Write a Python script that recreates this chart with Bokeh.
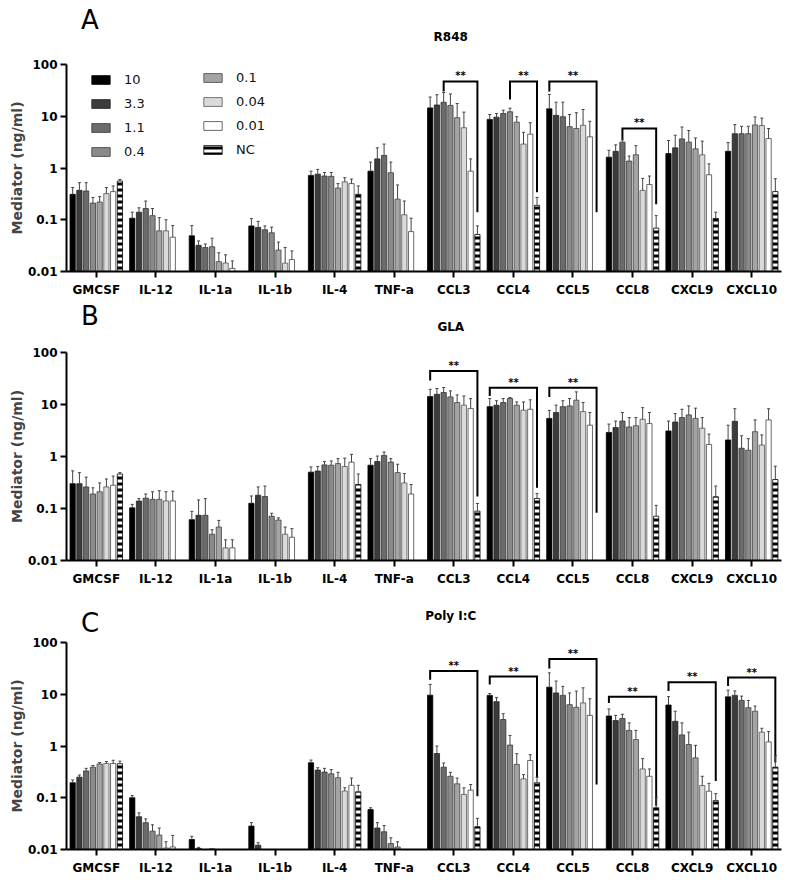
import math
from bokeh.plotting import figure
from bokeh.models import (Range1d, FixedTicker, Legend, LegendItem,
                          Whisker, TeeHead, ColumnDataSource)
from bokeh.layouts import column
from bokeh.embed import file_html
from bokeh.resources import INLINE
from bokeh.core.properties import value

# ---------------- data ----------------
CATEGORIES = ["GMCSF", "IL-12", "IL-1a", "IL-1b", "IL-4", "TNF-a",
              "CCL3", "CCL4", "CCL5", "CCL8", "CXCL9", "CXCL10"]
CONCENTRATIONS = ["10", "3.3", "1.1", "0.4", "0.1", "0.04", "0.01", "NC"]
Y_TICKS = [0.01, 0.1, 1, 10, 100]
Y_TICK_LABELS = ["0.01", "0.1", "1", "10", "100"]
PANEL_TITLES = ["R848", "GLA", "Poly I:C"]
PANEL_LETTERS = ["A", "B", "C"]
N = None

# Panel A : R848 (bar means, ng/ml)
r848_10 = [0.31, 0.107, 0.049, 0.076, 0.72, 0.87, 14.5, 8.7, 13.9, 1.62, 1.9, 2.1]
r848_3_3 = [0.37, 0.14, 0.032, 0.071, 0.76, 1.5, 16.5, 9.6, 10.4, 2.1, 2.45, 4.6]
r848_1_1 = [0.36, 0.165, 0.029, 0.064, 0.70, 1.75, 18.6, 11.3, 9.8, 3.16, 3.65, 4.6]
r848_0_4 = [0.21, 0.12, 0.030, 0.056, 0.69, 0.81, 16.2, 12.2, 6.3, 1.36, 3.16, 4.6]
r848_0_1 = [0.22, 0.061, 0.0155, 0.026, 0.41, 0.25, 9.4, 7.7, 5.8, 1.8, 2.35, 6.8]
r848_0_04 = [0.32, 0.061, 0.0146, 0.0145, 0.54, 0.125, 6.0, 2.9, 6.7, 0.37, 1.8, 6.6]
r848_0_01 = [0.35, 0.046, 0.0115, 0.017, 0.50, 0.059, 0.87, 4.5, 4.0, 0.48, 0.74, 3.7]
r848_nc = [0.56, N, N, N, 0.31, N, 0.052, 0.19, N, 0.069, 0.106, 0.35]
# upper end of error bars
r848_10_err = [0.42, 0.14, 0.077, 0.105, 0.87, 1.3, 23.5, 10.8, 26.4, 2.2, 3.4, 3.1]
r848_3_3_err = [0.52, 0.17, 0.039, 0.093, 0.94, 2.45, 26, 11.3, 18.7, 2.8, 4.3, 6.9]
r848_1_1_err = [0.52, 0.23, 0.034, 0.076, 0.82, 2.9, 28.7, 13.1, 18.7, 3.5, 6.2, 6.4]
r848_0_4_err = [0.27, 0.165, 0.044, 0.072, 0.82, 1.3, 27, 14.3, 10.8, 1.7, 5.3, 6.4]
r848_0_1_err = [0.28, 0.11, 0.023, 0.037, 0.5, 0.47, 17.6, 9.8, 11.7, 2.7, 3.8, 9.7]
r848_0_04_err = [0.42, 0.1, 0.021, 0.029, 0.65, 0.23, 12, 4.9, 13.5, 0.63, 3.3, 9.2]
r848_0_01_err = [0.45, 0.077, 0.016, 0.025, 0.61, 0.107, 1.5, 7.5, 8.0, 0.7, 1.2, 5.8]
r848_nc_err = [0.6, N, N, N, 0.45, N, 0.076, 0.27, N, 0.12, 0.14, 0.62]

# Panel B : GLA
gla_10 = [0.30, 0.103, 0.061, 0.126, 0.50, 0.68, 14.2, 9.1, 5.4, 2.9, 3.1, 2.08]
gla_3_3 = [0.30, 0.139, 0.074, 0.18, 0.525, 0.8, 15.7, 9.7, 7.0, 3.6, 4.6, 4.75]
gla_1_1 = [0.26, 0.158, 0.074, 0.17, 0.69, 1.05, 17, 10.9, 9.1, 4.8, 5.6, 1.44]
gla_0_4 = [0.19, 0.15, 0.032, 0.071, 0.68, 0.78, 14, 13.0, 9.4, 3.7, 6.3, 1.32]
gla_0_1 = [0.21, 0.15, 0.044, 0.06, 0.73, 0.49, 10.9, 9.7, 12.1, 3.9, 5.4, 3.0]
gla_0_04 = [0.26, 0.14, 0.0175, 0.032, 0.64, 0.31, 9.7, 7.8, 7.3, 5.2, 3.5, 1.66]
gla_0_01 = [0.28, 0.14, 0.0175, 0.028, 0.78, 0.19, 8.4, 8.1, 4.0, 4.3, 1.7, 5.05]
gla_nc = [0.46, N, N, N, 0.29, N, 0.089, 0.156, N, 0.071, 0.168, 0.36]
gla_10_err = [0.53, 0.12, 0.088, 0.174, 0.63, 0.91, 19.6, 13, 7.7, 4.2, 4.8, 4.0]
gla_3_3_err = [0.49, 0.155, 0.146, 0.26, 0.64, 1.02, 20.3, 11.8, 9.7, 4.8, 6.7, 8.3]
gla_1_1_err = [0.40, 0.19, 0.155, 0.27, 0.8, 1.22, 21.2, 13, 11.8, 7.0, 8.1, 2.5]
gla_0_4_err = [0.25, 0.21, 0.039, 0.081, 0.82, 0.91, 18.3, 13.6, 13, 5.6, 9.4, 2.2]
gla_0_1_err = [0.31, 0.22, 0.059, 0.066, 0.91, 0.71, 15.3, 11.2, 17.5, 5.6, 8.5, 5.05]
gla_0_04_err = [0.37, 0.21, 0.025, 0.044, 0.93, 0.47, 14.6, 11.2, 10.9, 8.7, 5.6, 2.6]
gla_0_01_err = [0.42, 0.215, 0.025, 0.041, 1.1, 0.29, 13.0, 12.3, 7.0, 7.0, 2.7, 8.3]
gla_nc_err = [0.49, N, N, N, 0.46, N, 0.125, 0.195, N, 0.115, 0.27, 0.65]

# Panel C : Poly I:C
polyic_10 = [0.195, 0.1, 0.0156, 0.0283, 0.475, 0.059, 9.6, 9.5, 13.7, 3.8, 6.2, 8.9]
polyic_3_3 = [0.25, 0.043, 0.0105, 0.0121, 0.343, 0.026, 0.716, 7.2, 10.6, 3.1, 3.0, 9.5]
polyic_1_1 = [0.33, 0.033, N, N, 0.314, 0.022, 0.39, 3.25, 9.5, 3.4, 1.64, 7.6]
polyic_0_4 = [0.39, 0.0226, 0.0103, N, 0.29, 0.013, 0.26, 1.04, 6.3, 2.0, 1.07, 5.5]
polyic_0_1 = [0.45, 0.019, N, N, 0.244, 0.0112, 0.186, 0.44, 5.6, 1.33, 0.59, 4.7]
polyic_0_04 = [0.46, 0.0107, N, N, 0.135, N, 0.116, 0.232, 6.8, 0.36, 0.172, 1.85]
polyic_0_01 = [0.46, 0.0112, N, N, 0.174, N, 0.14, 0.525, 3.9, 0.26, 0.134, 1.2]
polyic_nc = [0.455, N, N, N, 0.13, N, 0.0275, 0.195, N, 0.064, 0.088, 0.39]
polyic_10_err = [0.22, 0.11, 0.018, 0.033, 0.535, 0.064, 15.5, 10.3, 25.9, 5.2, 9.0, 12]
polyic_3_3_err = [0.275, 0.051, 0.011, 0.0135, 0.38, 0.033, 1.0, 8.6, 18, 3.9, 4.7, 11.6]
polyic_1_1_err = [0.37, 0.039, N, N, 0.37, 0.029, 0.47, 4.2, 14.2, 4.1, 2.8, 9.2]
polyic_0_4_err = [0.42, 0.03, N, N, 0.35, 0.0168, 0.31, 1.6, 10.6, 2.8, 1.85, 7.6]
polyic_0_1_err = [0.48, 0.026, N, N, 0.31, 0.0141, 0.24, 0.71, 11.5, 2.0, 1.03, 5.9]
polyic_0_04_err = [0.5, 0.0141, N, N, 0.156, N, 0.155, 0.28, 13.3, 0.57, 0.26, 2.2]
polyic_0_01_err = [0.53, 0.0187, N, N, 0.24, N, 0.18, 0.68, 8.2, 0.36, 0.19, 1.9]
polyic_nc_err = [0.51, N, N, N, 0.174, N, 0.04, 0.25, N, 0.1, 0.12, 0.65]

# significance brackets: category, first bar index, top, left end, right end (right bar = NC)
r848_br_cat = ["CCL3", "CCL4", "CCL5", "CCL8"]
r848_br_from = [2, 3, 0, 2]
r848_br_top = [47, 47, 47, 5.8]
r848_br_left = [30, 21, 30, 3.5]
r848_br_right = [0.14, 0.34, 0.14, 0.2]

gla_br_cat = ["CCL3", "CCL4", "CCL5"]
gla_br_from = [0, 0, 0]
gla_br_top = [44, 21, 21]
gla_br_left = [29, 14.5, 14]
gla_br_right = [0.17, 0.25, 0.083]

polyic_br_cat = ["CCL3", "CCL4", "CCL5", "CCL8", "CXCL9", "CXCL10"]
polyic_br_from = [0, 0, 0, 0, 0, 0]
polyic_br_top = [28, 22, 48, 8.9, 17, 21]
polyic_br_left = [19, 15.4, 31.5, 6.8, 11.5, 14.5]
polyic_br_right = [0.107, 0.245, 0.18, 0.07, 0.21, 0.48]

SIG_LABEL = "**"

# ---------------- styles ----------------
FILLS = ["#000000", "#3c3c3c", "#6b6b6b", "#8a8a8a", "#a4a4a4", "#dadada", "#ffffff", "#ffffff"]
OUTLINES = ["#000000", "#222222", "#333333", "#3a3a3a", "#444444", "#555555", "#444444", "#000000"]
FONT = "DejaVu Sans"
STEP = 0.1133
BAR_W = 0.088
FIG_W = 788
BORDER_L = 66
BORDER_R = 7
FRAME_W = FIG_W - BORDER_L - BORDER_R

panels = [
    dict(values=[r848_10, r848_3_3, r848_1_1, r848_0_4, r848_0_1, r848_0_04, r848_0_01, r848_nc],
         errs=[r848_10_err, r848_3_3_err, r848_1_1_err, r848_0_4_err, r848_0_1_err, r848_0_04_err, r848_0_01_err, r848_nc_err],
         br=(r848_br_cat, r848_br_from, r848_br_top, r848_br_left, r848_br_right),
         head_h=54, letter_y=35, title_y=17.5,
         height=245, top=10, bottom=28, legend=True),
    dict(values=[gla_10, gla_3_3, gla_1_1, gla_0_4, gla_0_1, gla_0_04, gla_0_01, gla_nc],
         errs=[gla_10_err, gla_3_3_err, gla_1_1_err, gla_0_4_err, gla_0_1_err, gla_0_04_err, gla_0_01_err, gla_nc_err],
         br=(gla_br_cat, gla_br_from, gla_br_top, gla_br_left, gla_br_right),
         head_h=43, letter_y=27, title_y=15.5,
         height=247, top=10, bottom=29, legend=False),
    dict(values=[polyic_10, polyic_3_3, polyic_1_1, polyic_0_4, polyic_0_1, polyic_0_04, polyic_0_01, polyic_nc],
         errs=[polyic_10_err, polyic_3_3_err, polyic_1_1_err, polyic_0_4_err, polyic_0_1_err, polyic_0_04_err, polyic_0_01_err, polyic_nc_err],
         br=(polyic_br_cat, polyic_br_from, polyic_br_top, polyic_br_left, polyic_br_right),
         head_h=48, letter_y=15, title_y=21.5,
         height=241, top=5, bottom=29, legend=False),
]


def bar_x(cat_index, k):
    return cat_index + 0.5 + (k - 3.5) * STEP


def make_header(idx, cfg):
    h = cfg["head_h"]
    p = figure(width=FIG_W, height=h, x_range=Range1d(-BORDER_L, FIG_W - BORDER_L),
               y_range=Range1d(0, h), toolbar_location=None, output_backend="svg",
               x_axis_location=None, y_axis_location=None,
               min_border_left=0, min_border_right=0, min_border_top=0, min_border_bottom=0)
    p.outline_line_color = None
    p.xgrid.visible = False
    p.ygrid.visible = False
    p.text(x=[-50], y=[cfg["letter_y"]], text=[PANEL_LETTERS[idx]], text_font=value(FONT),
           text_font_size="26px", text_align="left", text_baseline="alphabetic",
           text_color="#000000")
    p.text(x=[FRAME_W / 2], y=[cfg["title_y"]], text=[PANEL_TITLES[idx]], text_font=value(FONT),
           text_font_size="12px", text_font_style="bold", text_align="center",
           text_baseline="alphabetic", text_color="#000000")
    return p


def make_panel(idx, cfg):
    p = figure(width=FIG_W, height=cfg["height"], y_axis_type="log",
               x_range=Range1d(0, len(CATEGORIES)), y_range=Range1d(0.01, 100),
               toolbar_location=None, output_backend="svg",
               min_border_left=BORDER_L, min_border_right=BORDER_R,
               min_border_top=cfg["top"], min_border_bottom=cfg["bottom"])
    p.outline_line_color = None
    p.xgrid.visible = False
    p.ygrid.visible = False

    renderers = []
    for k, conc in enumerate(CONCENTRATIONS):
        vals = cfg["values"][k]
        errs = cfg["errs"][k]
        xs = [bar_x(i, k) for i, v in enumerate(vals) if v is not None]
        tops = [v for v in vals if v is not None]
        src = ColumnDataSource(dict(x=xs, top=tops))
        kw = {}
        if conc == "NC":
            kw = dict(hatch_pattern="horizontal_line", hatch_scale=6,
                      hatch_weight=3, hatch_color="#000000")
        r = p.vbar(x="x", top="top", bottom=0.001, width=BAR_W, source=src,
                   fill_color=FILLS[k], line_color=OUTLINES[k], line_width=0.8, **kw)
        renderers.append(r)
        ex = [bar_x(i, k) for i, (v, e) in enumerate(zip(vals, errs)) if v is not None and e is not None]
        elo = [v for v, e in zip(vals, errs) if v is not None and e is not None]
        ehi = [e for v, e in zip(vals, errs) if v is not None and e is not None]
        esrc = ColumnDataSource(dict(x=ex, lo=elo, hi=ehi))
        w = Whisker(source=esrc, base="x", lower="lo", upper="hi", dimension="height",
                    line_color="#444444", line_width=1,
                    upper_head=TeeHead(size=3, line_color="#444444", line_width=1),
                    lower_head=None, level="glyph")
        p.add_layout(w)

    # significance brackets
    cats, froms, tops, lefts, rights = cfg["br"]
    bxs, bys, sx, sy = [], [], [], []
    for c, f, t, l, r in zip(cats, froms, tops, lefts, rights):
        ci = CATEGORIES.index(c)
        xl = bar_x(ci, f)
        xr = bar_x(ci, 7)
        bxs.append([xl, xl, xr, xr])
        bys.append([l, t, t, r])
        sx.append((xl + xr) / 2)
        sy.append(t)
    p.multi_line(xs=bxs, ys=bys, line_color="#000000", line_width=2, line_join="miter")
    p.text(x=sx, y=sy, text=[SIG_LABEL] * len(sx), text_align="center",
           text_baseline="bottom", text_font=value(FONT), text_font_style="bold",
           text_font_size="10px", text_color="#000000")

    # axes
    xa = p.xaxis[0]
    xa.ticker = FixedTicker(ticks=[i + 0.5 for i in range(len(CATEGORIES))])
    xa.major_label_overrides = {i + 0.5: c for i, c in enumerate(CATEGORIES)}
    xa.minor_tick_line_color = None
    ya = p.yaxis[0]
    ya.ticker = FixedTicker(ticks=Y_TICKS)
    ya.major_label_overrides = {t: s for t, s in zip(Y_TICKS, Y_TICK_LABELS)}
    ya.minor_tick_line_color = None
    ya.axis_label = "Mediator (ng/ml)"
    ya.axis_label_text_font = FONT
    ya.axis_label_text_font_style = "bold"
    ya.axis_label_text_font_size = "14px"
    ya.axis_label_standoff = 0
    ya.major_label_standoff = 3
    xa.major_label_standoff = 5
    for a in (xa, ya):
        a.axis_line_width = 2
        a.axis_line_color = "#000000"
        a.major_tick_line_width = 2
        a.major_tick_line_color = "#000000"
        a.major_tick_in = 0
        a.major_tick_out = 6
        a.major_label_text_font = FONT
        a.major_label_text_font_style = "bold"
        a.major_label_text_font_size = "12px"
        a.major_label_text_color = "#000000"

    if cfg["legend"]:
        common = dict(border_line_color=None, background_fill_alpha=0, padding=0, margin=0,
                      spacing=9, glyph_width=23, glyph_height=11, label_standoff=12,
                      label_text_font=FONT, label_text_font_size="13px", label_height=12,
                      label_text_color="#111111")
        leg1 = Legend(items=[LegendItem(label=CONCENTRATIONS[k], renderers=[renderers[k]]) for k in range(4)],
                      location=(23, 112), **common)
        leg2 = Legend(items=[LegendItem(label=CONCENTRATIONS[k], renderers=[renderers[k]]) for k in range(4, 8)],
                      location=(135, 114), **common)
        p.add_layout(leg1)
        p.add_layout(leg2)
    return p


figs = []
for i, cfg in enumerate(panels):
    figs.append(make_header(i, cfg))
    figs.append(make_panel(i, cfg))
layout = column(*figs, spacing=0)
open("out.html", "w").write(file_html(layout, INLINE))
